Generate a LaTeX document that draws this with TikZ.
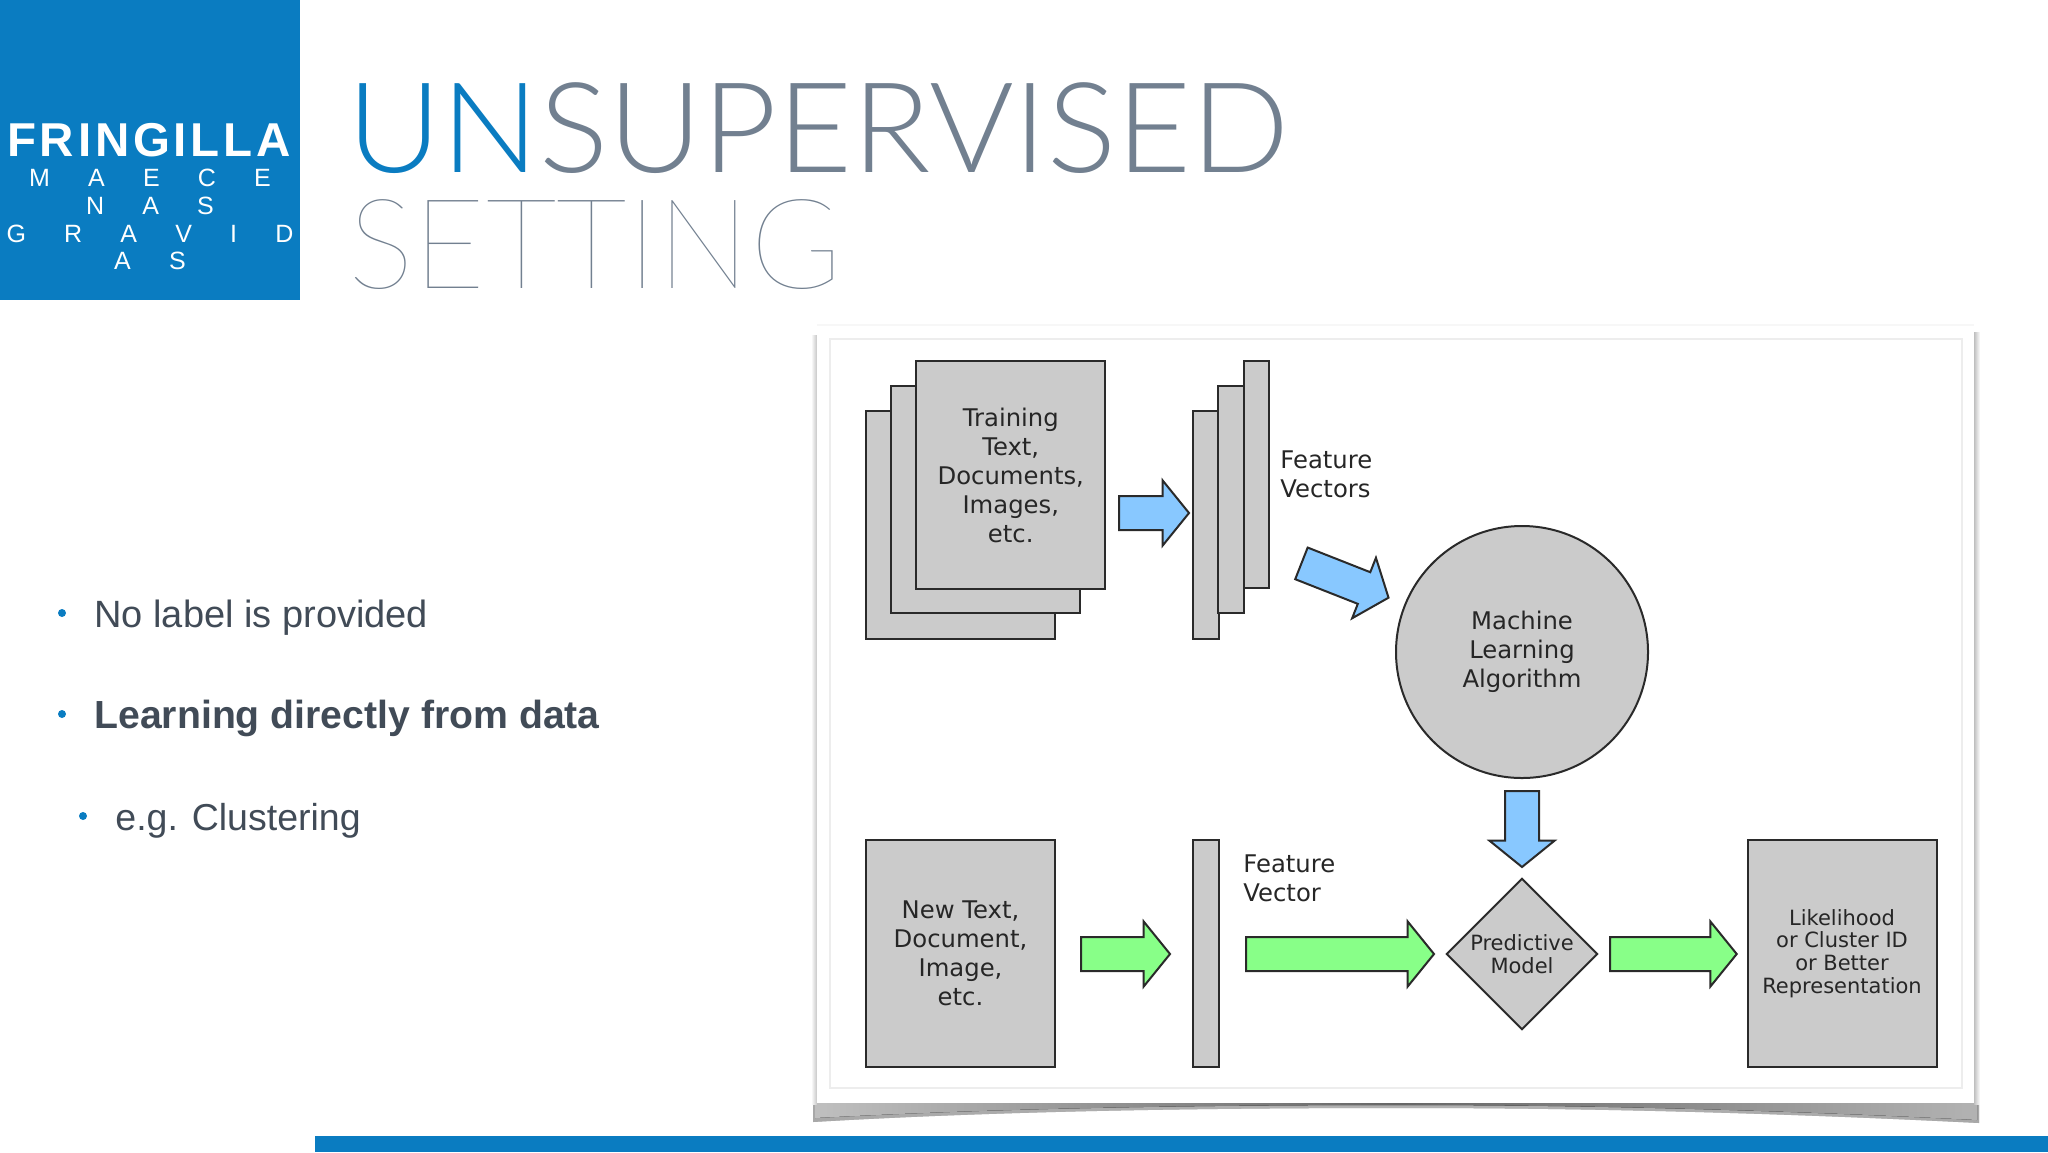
\documentclass[tikz,border=0pt]{standalone}
\usepackage{fontspec}
\usetikzlibrary{shapes.geometric,shapes.arrows}
\setmainfont{Liberation Sans}
\newfontfamily\diagfont{DejaVu Sans}
\newfontfamily\thinfont{Lato Thin}
\newfontfamily\lightfont{Lato Light}
\newfontfamily\logofont[LetterSpace=8]{Liberation Sans Bold}
\newfontfamily\logosmall[WordSpace=5.5]{Liberation Sans}
\definecolor{brandblue}{HTML}{0A7CC1}
\definecolor{titlegray}{HTML}{728090}
\definecolor{bodygray}{HTML}{414B57}
\definecolor{boxgray}{HTML}{CBCBCB}
\definecolor{linegray}{HTML}{2A2A2A}
\definecolor{arrowblue}{HTML}{88C8FF}
\definecolor{arrowgreen}{HTML}{88FF88}
\tikzset{
  diagtext/.style={font=\diagfont\fontsize{12.15}{14.5}\selectfont,align=center,text=black!85},
  smalltext/.style={font=\diagfont\fontsize{10.5}{11.35}\selectfont,align=center,text=black!85},
  grayshape/.style={draw=linegray,fill=boxgray,line width=1pt,inner sep=0pt},
  pagebox/.style={grayshape,diagtext,minimum width=94.5pt,minimum height=113.75pt},
  barbox/.style={grayshape,minimum width=12.75pt,minimum height=113.75pt},
  blockarrow/.style={single arrow,draw=linegray,line width=1pt,inner xsep=0pt,inner ysep=8pt,anchor=tail,
    minimum width=31.5pt,single arrow head extend=7.75pt,single arrow tip angle=102},
  bluearrow/.style={blockarrow,fill=arrowblue},
  greenarrow/.style={blockarrow,fill=arrowgreen},
  bulletdot/.style={circle,fill=brandblue,inner sep=0pt,minimum size=4pt},
  bodytext/.style={anchor=base west,inner sep=0pt,text=bodygray,font=\fontsize{18.75}{22}\selectfont},
  logoline/.style={anchor=base,inner sep=0pt,text=white,font=\logosmall\fontsize{12.5}{14}\selectfont},
}
\begin{document}
\begin{tikzpicture}[x=0.5pt,y=-0.5pt]
  \useasboundingbox (0,0) rectangle (2048,1152);

  % logo
  \fill[brandblue] (0,0) rectangle (300,300);
  \draw(149,156)node[anchor=base,inner sep=0pt,text=white,font=\logofont\fontsize{23.75}{26}\selectfont](logoname){FRINGILLA};
  \draw(150,186)node[logoline](logoa){M A E C E};
  \draw(150,214)node[logoline](logob){N A S};
  \draw(150,242)node[logoline](logoc){G R A V I D};
  \draw(150,269)node[logoline](logod){A S};

  % title
  \draw(347,172)node[anchor=base west,inner sep=0pt,font=\lightfont\fontsize{62.8}{70}\selectfont,text=titlegray](titlea){\scalebox{1.03}[1]{\textcolor{brandblue}{UN}SUPERVISED}};
  \draw(348,288)node[anchor=base west,inner sep=0pt,font=\thinfont\fontsize{62.8}{70}\selectfont,text=titlegray](titleb){\scalebox{0.987}[1]{SETTING}};

  % list
  \draw(62,613)node[bulletdot](dota){};
  \draw(94,627)node[bodytext,font=\fontsize{19}{22}\selectfont](lista){No label is provided};
  \draw(62,714)node[bulletdot](dotb){};
  \draw(94,728)node[bodytext,font=\bfseries\fontsize{19.6}{22}\selectfont](listb){Learning directly from data};
  \draw(83,816)node[bulletdot](dotc){};
  \draw(115,830)node[bodytext](listc){e.g. Clustering};

  % panel
  \fill[left color=gray!35,right color=gray!35,middle color=gray!20,opacity=0.5]
    (813,1098) -- (1979,1098) -- (1979,1123) .. controls (1700,1109) and (1500,1108) .. (1400,1108)
    .. controls (1200,1108) and (1000,1111) .. (813,1122) -- cycle;
  \fill[left color=gray!50,right color=gray!60,middle color=black!60]
    (815,1098) -- (1977,1098) -- (1977,1120) .. controls (1700,1106) and (1500,1105) .. (1400,1105)
    .. controls (1200,1105) and (1000,1108) .. (815,1118) -- cycle;
  \fill[left color=white,right color=gray!45] (811,335) rectangle (817,1104);
  \fill[left color=gray!50,right color=white] (1974,332) rectangle (1980,1104);
  \fill[white] (817,325) rectangle (1974,1103);
  \draw[black!3,line width=1pt] (817,325) -- (1974,325);
  \draw[black!7,line width=1pt] (830,339) rectangle (1962,1088);

  % top row
  \draw(960,525)node[pagebox](trainc){};
  \draw(985.5,499.5)node[pagebox](trainb){};
  \draw(1010.75,475)node[pagebox](traina){Training\\Text,\\Documents,\\Images,\\etc.};
  \draw(1118,513)node[bluearrow,minimum height=35pt](arrowa){};
  \draw(1206,525)node[barbox](vecc){};
  \draw(1231,499.5)node[barbox](vecb){};
  \draw(1256.5,474.5)node[barbox](veca){};
  \draw(1280,474)node[anchor=west,inner sep=0pt,diagtext,align=left](featsa){Feature\\Vectors};
  \draw(1300.5,563)node[bluearrow,rotate=-21.5,minimum height=46.8pt](arrowb){};
  \draw(1522,652)node[grayshape,diagtext,circle,minimum size=126pt](algo){Machine\\Learning\\Algorithm};
  \draw(1522,790)node[bluearrow,rotate=-90,minimum height=38pt](arrowc){};

  % bottom row
  \draw(960.5,953.5)node[pagebox](newtext){New Text,\\Document,\\Image,\\etc.};
  \draw(1080,954)node[greenarrow,minimum height=44.5pt](arrowd){};
  \draw(1206,953.5)node[barbox](vecd){};
  \draw(1243,878)node[anchor=west,inner sep=0pt,diagtext,align=left](featsb){Feature\\Vector};
  \draw(1245,954)node[greenarrow,minimum height=94pt](arrowe){};
  \draw(1522,954)node[grayshape,smalltext,diamond,aspect=1,minimum width=75.7pt,minimum height=75.7pt](model){Predictive\\Model};
  \draw(1609,954)node[greenarrow,minimum height=63.35pt](arrowf){};
  \draw(1842,953.5)node[pagebox,smalltext](result){Likelihood\\or Cluster ID\\or Better\\Representation};

  \fill[brandblue] (315,1136) rectangle (2048,1152);

\end{tikzpicture}
\end{document}
